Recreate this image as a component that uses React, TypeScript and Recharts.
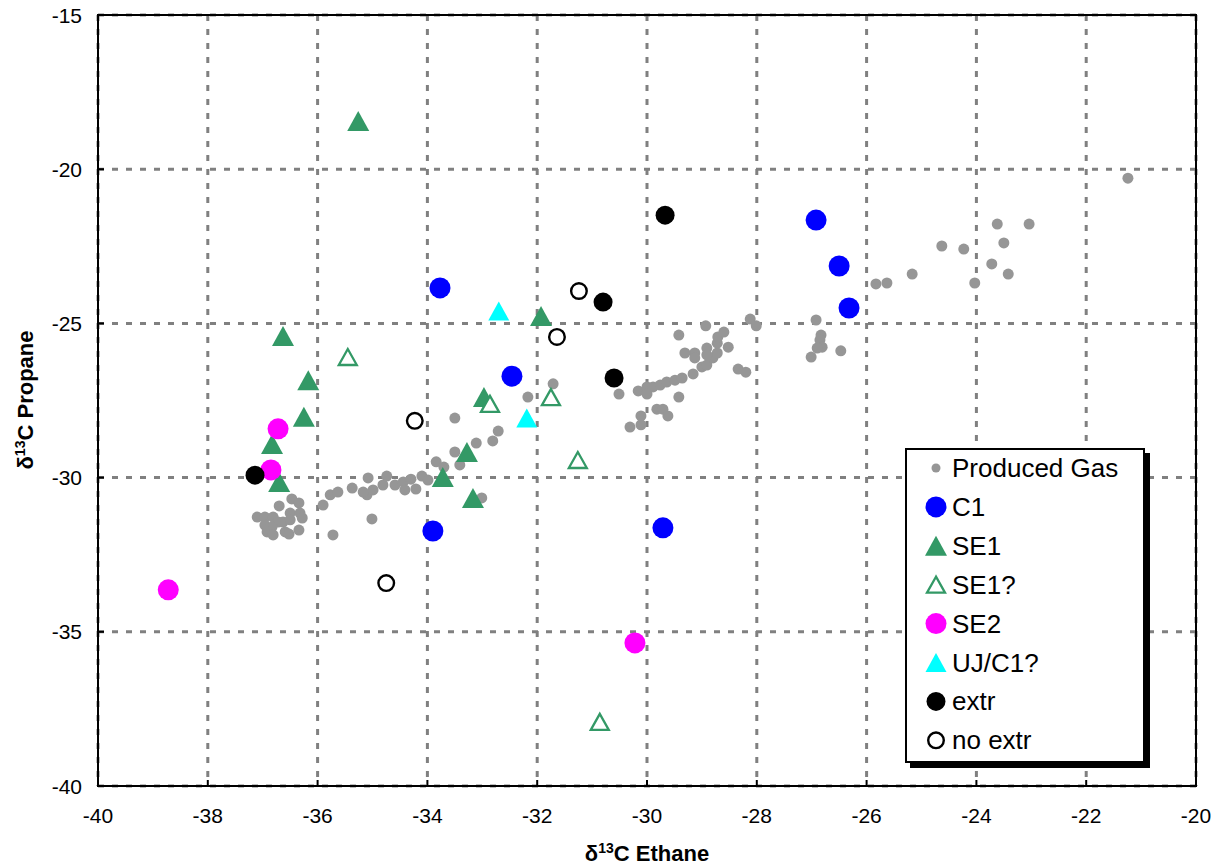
import {
  ScatterChart,
  Scatter,
  XAxis,
  YAxis,
  CartesianGrid,
  ReferenceArea,
  Legend,
  Label,
} from "recharts";

type Pt = [number, number]; // [ethane, propane]

const xTicks = [-40, -38, -36, -34, -32, -30, -28, -26, -24, -22, -20];
const yTicks = [-40, -35, -30, -25, -20, -15];

const producedGas: Pt[] = [
  [-36.7, -30.92], [-36.47, -30.69], [-36.34, -30.82], [-37.1, -31.28], [-36.96, -31.28],
  [-36.81, -31.28], [-36.72, -31.44], [-36.5, -31.15], [-36.32, -31.15], [-36.28, -31.31],
  [-36.96, -31.54], [-36.83, -31.6], [-36.63, -31.44], [-36.5, -31.37], [-36.92, -31.76],
  [-36.81, -31.86], [-36.59, -31.76], [-36.52, -31.83], [-36.34, -31.7], [-35.9, -30.89],
  [-35.77, -30.56], [-35.63, -30.47], [-35.37, -30.34], [-35.72, -31.86], [-35.01, -31.34],
  [-35.08, -30.01], [-35.1, -30.56], [-35.17, -30.47], [-34.99, -30.4], [-34.81, -30.24],
  [-34.74, -29.95], [-34.59, -30.24], [-34.44, -30.14], [-34.3, -30.05], [-34.41, -30.4],
  [-34.21, -30.37], [-34.1, -29.95], [-33.99, -30.08],
  [-33.84, -29.49], [-33.7, -29.66], [-33.41, -29.59], [-33.5, -29.17], [-33.11, -28.88],
  [-32.81, -28.81], [-32.71, -28.49], [-33.5, -28.07], [-33.01, -30.66], [-32.17, -27.39],
  [-31.71, -26.96],
  [-30.51, -27.29], [-30.31, -28.36], [-30.11, -28.29], [-30.11, -28.0], [-30.16, -27.19],
  [-30.0, -27.06], [-30.0, -27.29], [-29.89, -27.06], [-29.76, -27.0], [-29.64, -26.9],
  [-29.49, -26.84], [-29.36, -26.77], [-29.42, -27.39], [-29.82, -27.78], [-29.71, -27.78],
  [-29.62, -28.0], [-29.16, -26.64], [-29.0, -26.41], [-28.91, -26.35], [-28.8, -26.12],
  [-28.72, -25.96], [-28.72, -25.64], [-28.71, -25.44], [-28.6, -25.28], [-28.52, -25.77],
  [-28.91, -25.8], [-28.91, -26.02], [-29.13, -25.96], [-29.13, -26.12], [-29.31, -25.96],
  [-29.42, -25.38], [-28.93, -25.08], [-28.12, -24.86], [-28.01, -25.08], [-28.34, -26.48],
  [-28.2, -26.58],
  [-26.92, -24.89], [-26.83, -25.38], [-26.85, -25.54], [-26.81, -25.77], [-26.9, -25.8],
  [-26.47, -25.89], [-27.01, -26.09], [-25.83, -23.72], [-25.63, -23.69], [-25.17, -23.4],
  [-24.63, -22.49], [-24.23, -22.59], [-24.03, -23.69], [-23.72, -23.07], [-23.62, -21.78],
  [-23.5, -22.39], [-23.42, -23.4], [-23.04, -21.78], [-21.24, -20.29],
];

const c1: Pt[] = [
  [-33.77, -23.85], [-32.46, -26.71], [-33.9, -31.73], [-29.71, -31.63],
  [-26.92, -21.65], [-26.5, -23.14], [-26.32, -24.5],
];

const se1: Pt[] = [
  [-35.26, -18.44], [-36.63, -25.41], [-36.17, -26.84], [-36.25, -28.03], [-36.83, -28.91],
  [-36.7, -30.14], [-33.72, -29.98], [-33.28, -29.17], [-33.17, -30.66], [-32.97, -27.39],
  [-31.93, -24.76],
];

const se1q: Pt[] = [
  [-35.45, -26.09], [-32.86, -27.61], [-31.75, -27.39], [-31.26, -29.43], [-30.86, -37.92],
];

const se2: Pt[] = [
  [-38.72, -33.64], [-36.72, -28.42], [-36.85, -29.75], [-30.22, -35.36],
];

const ujC1q: Pt[] = [
  [-32.7, -24.6], [-32.19, -28.07],
];

const extr: Pt[] = [
  [-37.14, -29.92], [-29.67, -21.49], [-30.8, -24.31], [-30.6, -26.77],
];

const noExtr: Pt[] = [
  [-31.24, -23.95], [-31.64, -25.44], [-34.23, -28.16], [-34.75, -33.42],
];

type Kind = "gas" | "c1" | "se1" | "se1q" | "se2" | "uj" | "extr" | "noextr";

const series: { name: string; kind: Kind; data: Pt[] }[] = [
  { name: "Produced Gas", kind: "gas", data: producedGas },
  { name: "C1", kind: "c1", data: c1 },
  { name: "SE1", kind: "se1", data: se1 },
  { name: "SE1?", kind: "se1q", data: se1q },
  { name: "SE2", kind: "se2", data: se2 },
  { name: "UJ/C1?", kind: "uj", data: ujC1q },
  { name: "extr", kind: "extr", data: extr },
  { name: "no extr", kind: "noextr", data: noExtr },
];

const GREEN = "#339966";
const FONT = "'Liberation Sans', Arial, sans-serif";

function tri(cx: number, cy: number, w: number, h: number, fill: string, stroke = "none", sw = 0) {
  return (
    <polygon
      points={`${cx},${cy - h / 2} ${cx - w / 2},${cy + h / 2} ${cx + w / 2},${cy + h / 2}`}
      fill={fill}
      stroke={stroke}
      strokeWidth={sw}
    />
  );
}

function drawMarker(kind: Kind, cx: number, cy: number, legend = false) {
  switch (kind) {
    case "gas":
      return <circle cx={cx} cy={cy} r={legend ? 4.5 : 5.5} fill="#969696" />;
    case "c1":
      return <circle cx={cx} cy={cy} r={10.5} fill="#0000ff" />;
    case "se1":
      return tri(cx, cy, 22, 20, GREEN);
    case "se1q":
      return tri(cx, cy, 18, 16, "#fff", GREEN, 2.3);
    case "se2":
      return <circle cx={cx} cy={cy} r={10.5} fill="#ff00ff" />;
    case "uj":
      return tri(cx, cy, 21, 19, "#00ffff");
    case "extr":
      return <circle cx={cx} cy={cy} r={9.5} fill="#000" />;
    case "noextr":
      return <circle cx={cx} cy={cy} r={7.8} fill="#fff" stroke="#000" strokeWidth={2.4} />;
  }
}

const XTick = (p: any) => (
  <g>
    <line x1={p.x} y1={p.y} x2={p.x} y2={p.y - 6} stroke="#000" strokeWidth={2} />
    <text x={p.x} y={p.y + 37} textAnchor="middle" fontSize={21} fontFamily={FONT} fill="#000">
      {p.payload.value}
    </text>
  </g>
);

const YTick = (p: any) => (
  <g>
    <line x1={p.x} y1={p.y} x2={p.x + 6} y2={p.y} stroke="#000" strokeWidth={2} />
    <text x={p.x - 16} y={p.y + 7.5} textAnchor="end" fontSize={21} fontFamily={FONT} fill="#000">
      {p.payload.value}
    </text>
  </g>
);

const XTitle = () => (
  <text x={647} y={861} textAnchor="middle" fontSize={22} fontWeight="bold" fontFamily={FONT} fill="#000">
    δ<tspan dy={-8} fontSize={14}>13</tspan>
    <tspan dy={8}>C Ethane</tspan>
  </text>
);

const YTitle = () => (
  <text
    x={33}
    y={400}
    transform="rotate(-90 33 400)"
    textAnchor="middle"
    fontSize={22}
    fontWeight="bold"
    fontFamily={FONT}
    fill="#000"
  >
    δ<tspan dy={-8} fontSize={14}>13</tspan>
    <tspan dy={8}>C Propane</tspan>
  </text>
);

const renderLegend = () => (
  <div
    style={{
      width: 240,
      height: 315,
      boxSizing: "border-box",
      border: "2px solid #000",
      background: "#fff",
      boxShadow: "5px 5px 0 #000",
    }}
  >
    <svg width={236} height={311} style={{ display: "block" }}>
      {series.map((s, i) => {
        const cy = 18 + i * 38.9;
        return (
          <g key={s.name}>
            {drawMarker(s.kind, 29, cy, true)}
            <text x={45} y={cy + 9} fontSize={26} fontFamily={FONT} fill="#000">
              {s.name}
            </text>
          </g>
        );
      })}
    </svg>
  </div>
);

export default function App() {
  return (
    <div style={{ position: "absolute", left: 0, top: 0, background: "#fff" }}>
      <ScatterChart width={1214} height={866} margin={{ top: 15, right: 18, bottom: 0, left: 0 }}>
        <CartesianGrid stroke="#808080" strokeWidth={3} strokeDasharray="6 8" />
        <XAxis
          type="number"
          dataKey="x"
          domain={[-40, -20]}
          ticks={xTicks}
          interval={0}
          height={80}
          axisLine={false}
          tickLine={false}
          tickSize={0}
          tickMargin={0}
          tick={(p: any) => <XTick {...p} />}
        >
          <Label content={() => <XTitle />} />
        </XAxis>
        <YAxis
          type="number"
          dataKey="y"
          domain={[-40, -15]}
          ticks={yTicks}
          interval={0}
          width={98}
          axisLine={false}
          tickLine={false}
          tickSize={0}
          tickMargin={0}
          tick={(p: any) => <YTick {...p} />}
        >
          <Label content={() => <YTitle />} />
        </YAxis>
        <ReferenceArea
          x1={-40}
          x2={-20}
          y1={-40}
          y2={-15}
          fill="none"
          stroke="#000"
          strokeWidth={2}
          ifOverflow="visible"
        />
        {series.map((s) => (
          <Scatter
            key={s.name}
            name={s.name}
            data={s.data.map(([x, y]) => ({ x, y }))}
            isAnimationActive={false}
            shape={(p: any) => drawMarker(s.kind, p.cx, p.cy)}
          />
        ))}
        <Legend
          layout="vertical"
          align="center"
          verticalAlign="middle"
          content={renderLegend}
          wrapperStyle={{ left: 905, top: 448, width: 240, height: 315 }}
        />
      </ScatterChart>
    </div>
  );
}
